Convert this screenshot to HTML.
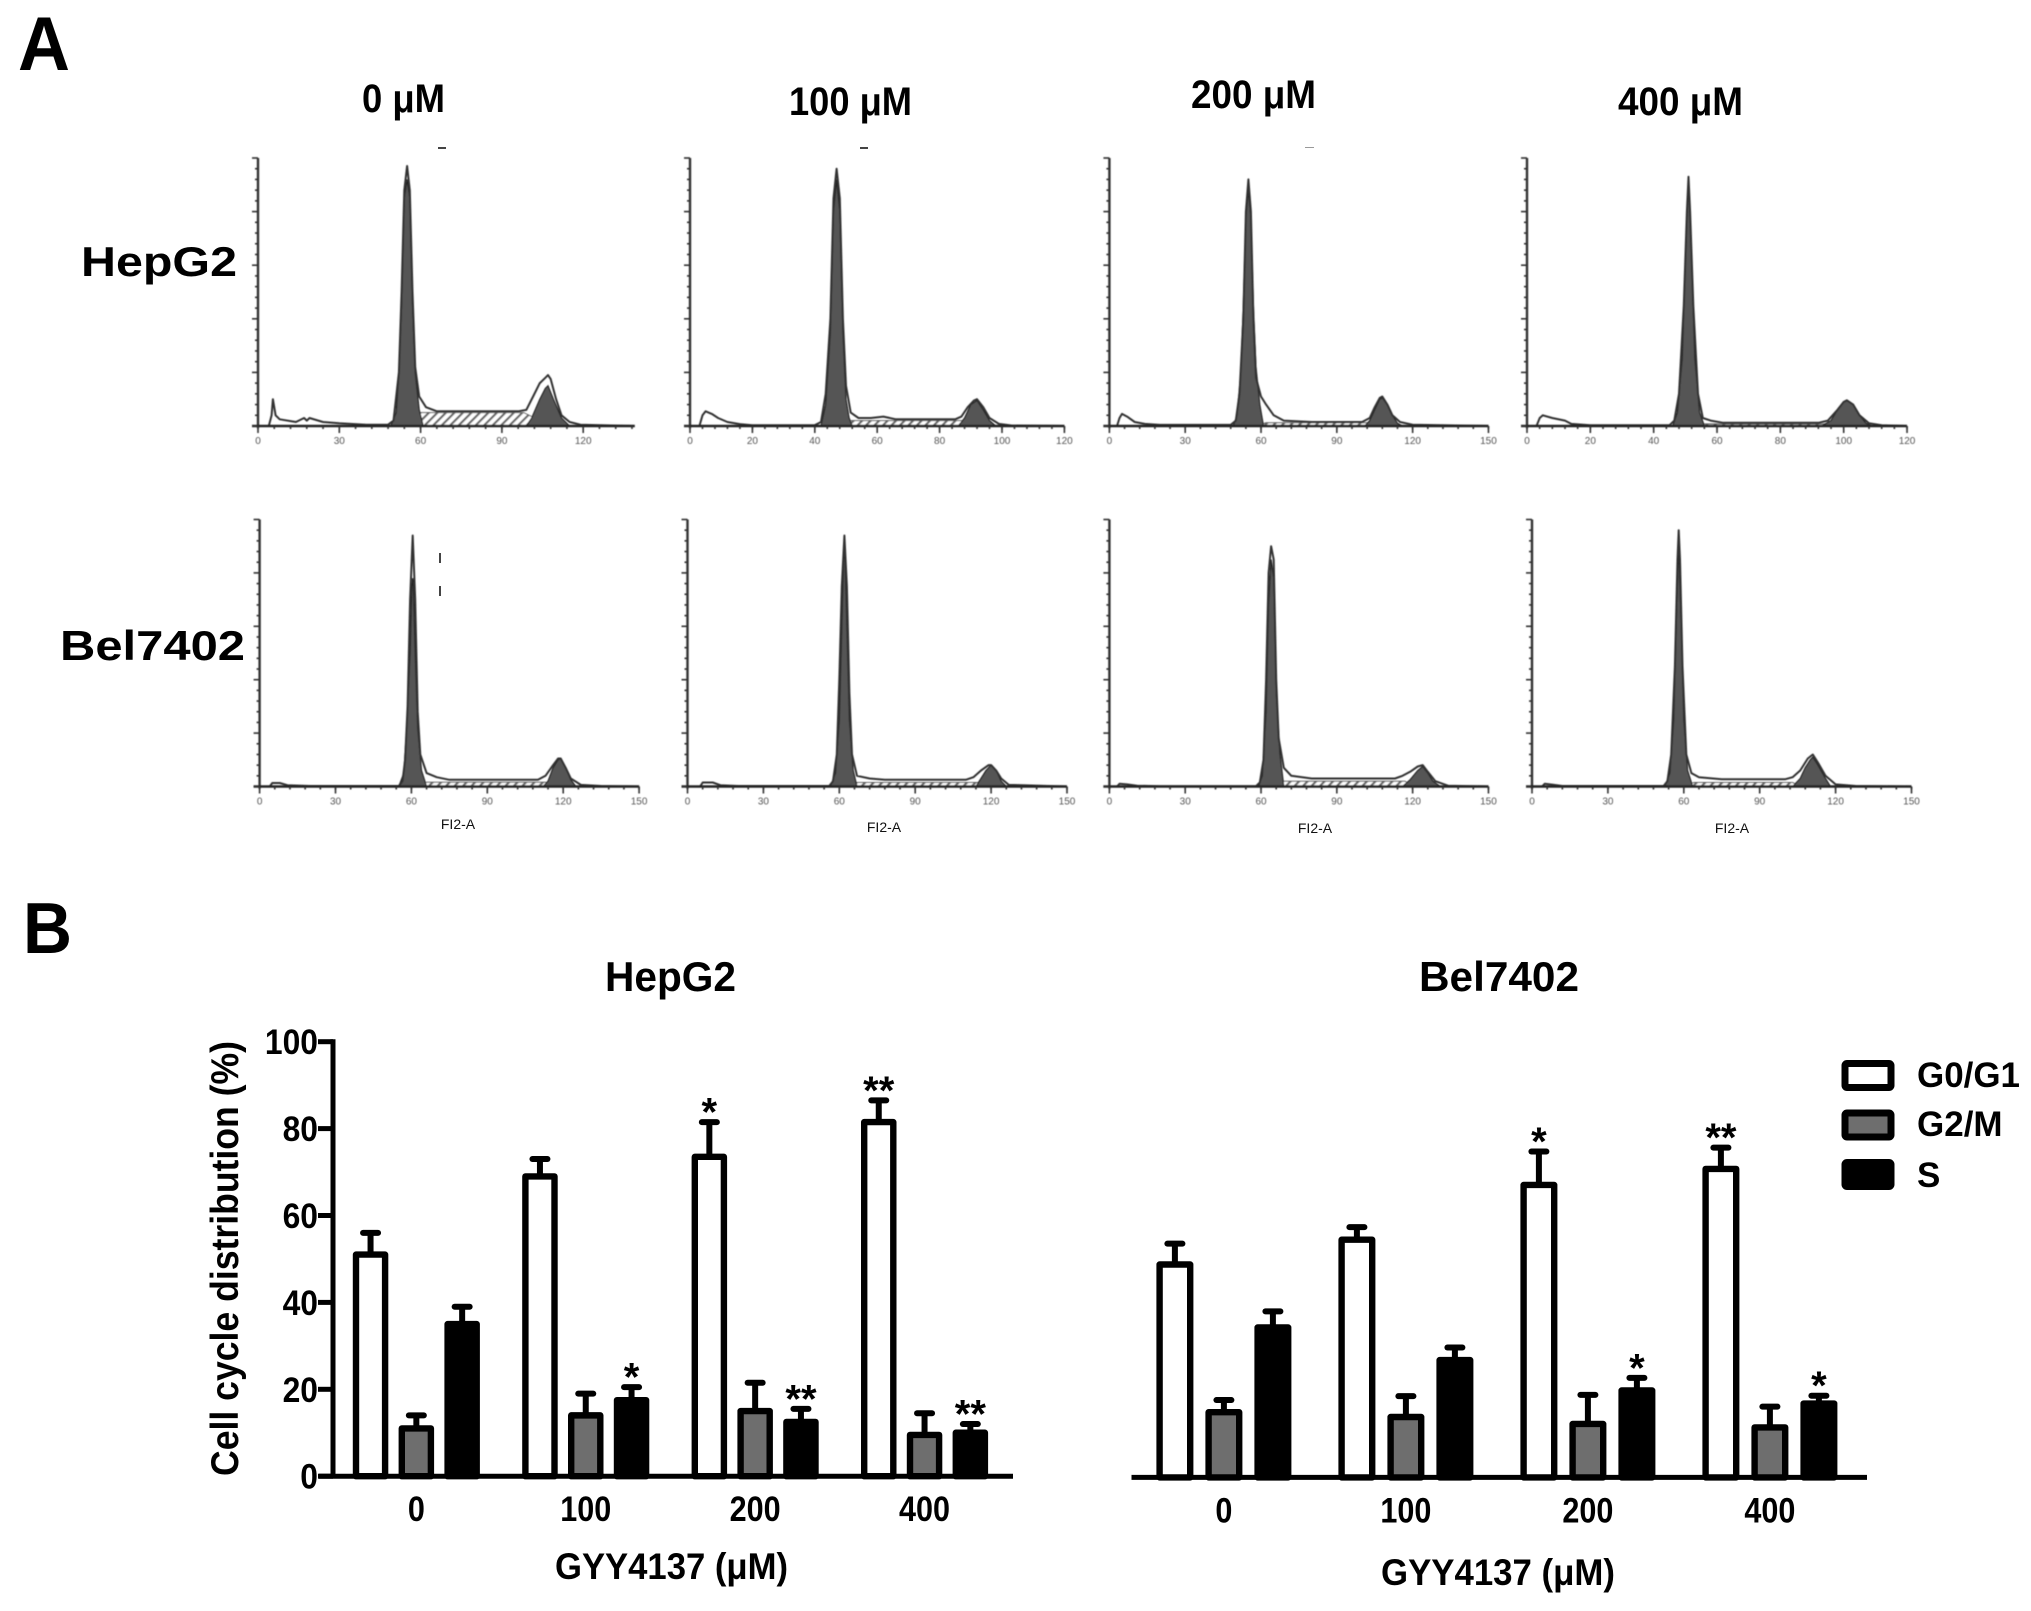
<!DOCTYPE html>
<html lang="en">
<head>
<meta charset="utf-8">
<title>Cell cycle distribution after GYY4137 treatment</title>
<style>
html,body{margin:0;padding:0;background:#fff;}
svg{display:block;}
text{font-family:"Liberation Sans",sans-serif;font-weight:bold;fill:#000;}
.hist-tick{font-size:10px;font-weight:normal;fill:#555;}
.fl{font-size:14px;font-weight:normal;fill:#111;}
</style>
</head>
<body>
<svg id="figure" xmlns="http://www.w3.org/2000/svg" width="2031" height="1611" viewBox="0 0 2031 1611">
<defs>
<pattern id="hatch" patternUnits="userSpaceOnUse" width="6" height="6" patternTransform="rotate(45)">
<rect width="6" height="6" fill="#fff"/>
<rect width="2.2" height="6" fill="#666"/>
</pattern>
<filter id="soft" x="-5%" y="-5%" width="110%" height="110%"><feGaussianBlur stdDeviation="0.6"/></filter>
</defs>
<rect width="2031" height="1611" fill="#fff"/>

<text x="18" y="70" font-size="76" textLength="52" lengthAdjust="spacingAndGlyphs">A</text>
<text x="23" y="953" font-size="72" textLength="49" lengthAdjust="spacingAndGlyphs">B</text>

<text x="362" y="112" font-size="40" textLength="83" lengthAdjust="spacingAndGlyphs">0 μM</text>
<text x="789" y="115" font-size="40" textLength="123" lengthAdjust="spacingAndGlyphs">100 μM</text>
<text x="1191" y="108" font-size="40" textLength="125" lengthAdjust="spacingAndGlyphs">200 μM</text>
<text x="1618" y="115" font-size="40" textLength="125" lengthAdjust="spacingAndGlyphs">400 μM</text>

<text x="81" y="276" font-size="42" textLength="156" lengthAdjust="spacingAndGlyphs">HepG2</text>
<text x="60" y="660" font-size="42" textLength="185" lengthAdjust="spacingAndGlyphs">Bel7402</text>

<g id="histograms" filter="url(#soft)"></g>

<text class="fl" x="458" y="829" text-anchor="middle">FI2-A</text>
<text class="fl" x="884" y="832" text-anchor="middle">FI2-A</text>
<text class="fl" x="1315" y="833" text-anchor="middle">FI2-A</text>
<text class="fl" x="1732" y="833" text-anchor="middle">FI2-A</text>

<rect x="438" y="147" width="8" height="2" fill="#444"/>
<rect x="860" y="147" width="8" height="2" fill="#444"/>
<rect x="1305" y="147" width="9" height="1" fill="#999"/>
<rect x="439" y="553" width="2" height="10" fill="#444"/>
<rect x="439" y="586" width="2" height="10" fill="#444"/>

<text x="605" y="991" font-size="42" textLength="131" lengthAdjust="spacingAndGlyphs">HepG2</text>
<text x="1419" y="991" font-size="42" textLength="160" lengthAdjust="spacingAndGlyphs">Bel7402</text>

<g id="hepChart"></g>
<g id="belChart"></g>

<text transform="translate(238,1476) rotate(-90)" x="0" y="0" font-size="39" textLength="435" lengthAdjust="spacingAndGlyphs">Cell cycle distribution (%)</text>
<text x="555" y="1579" font-size="37" textLength="233" lengthAdjust="spacingAndGlyphs">GYY4137 (μM)</text>
<text x="1381" y="1585" font-size="37" textLength="234" lengthAdjust="spacingAndGlyphs">GYY4137 (μM)</text>

<g>
<rect x="1845" y="1063.5" width="46" height="24" rx="2" fill="#fff" stroke="#000" stroke-width="7"/>
<text x="1917" y="1087" font-size="35" textLength="103" lengthAdjust="spacingAndGlyphs">G0/G1</text>
<rect x="1845" y="1113" width="46" height="24" rx="2" fill="#6e6e6e" stroke="#000" stroke-width="7"/>
<text x="1917" y="1136" font-size="35">G2/M</text>
<rect x="1845" y="1162.5" width="46" height="24" rx="2" fill="#000" stroke="#000" stroke-width="7"/>
<text x="1917" y="1187" font-size="35">S</text>
</g>
</svg>

<script>
/* ---------- Panel B data ---------- */
const doseLabels = ['0', '100', '200', '400'];
const yTickValues = [0, 20, 40, 60, 80, 100];
const phaseNames = ['g0-g1', 'g2-m', 's'];

const hepG0 = [51, 69, 73.5, 81.5];
const hepG2 = [11, 14, 15, 9.5];
const hepS = [35, 17.5, 12.5, 10];
const hepG0Err = [5, 4, 8, 5];
const hepG2Err = [3, 5, 6.5, 5];
const hepSErr = [4, 3, 3, 2];
const hepG0Stars = ['', '', '*', '**'];
const hepG2Stars = ['', '', '', ''];
const hepSStars = ['', '*', '**', '**'];

const belG0 = [49, 54.7, 67.3, 71];
const belG2 = [15, 13.9, 12.3, 11.5];
const belS = [34.5, 27, 20, 17];
const belG0Err = [4.8, 2.9, 7.7, 4.9];
const belG2Err = [2.8, 4.8, 6.7, 4.8];
const belSErr = [3.7, 2.9, 2.9, 1.8];
const belG0Stars = ['', '', '*', '**'];
const belG2Stars = ['', '', '', ''];
const belSStars = ['', '', '*', '*'];

/* ---------- Panel A data: channel / percent-of-axis-height pairs ---------- */
const histTicks30to120 = [0, 30, 60, 90, 120];
const histTicks20to120 = [0, 20, 40, 60, 80, 100, 120];
const histTicks30to150 = [0, 30, 60, 90, 120, 150];

const hepOutline0 = [[0,0],[4,0],[5,4],[5.5,10],[6.5,4],[8,2.5],[14,1.5],[17,3],[18,2],[19,3],[24,1.5],[30,1],[40,.5],[48,.5],[50,2],[52,20],[53,50],[54,88],[55,97],[56,88],[57,50],[58,22],[59.5,11],[62,7],[66,5.5],[80,5.5],[96,5.5],[99,6],[101.5,11],[104,16],[106,18],[107,19],[108,17.5],[110,10],[112,4],[115,1.5],[119,.5],[139,0]];
const hepG1Fill0 = [[49,0],[51,5],[52,20],[53,45],[54,85],[55,92],[56,85],[57,45],[58,20],[59.5,6],[61,0]];
const hepG2Fill0 = [[99,0],[101,3],[104,10],[106,14],[107,15],[109,10],[112,3],[115,0]];
const hepSFill0 = [[56,0],[60,5],[98,5],[104,2],[108,0]];

const hepOutline100 = [[0,0],[3,0],[4,4],[5,5.5],[7,4.5],[9,3],[12,1.5],[16,.7],[20,.3],[40,.3],[42,1.5],[43.5,12],[45,40],[46,85],[47,96],[48,85],[49,40],[50,15],[51.5,5],[54,3],[58,3],[62,3.5],[66,2.5],[85,2.5],[87,3.5],[89,7],[91,9.5],[92,10],[94,7],[96,3],[99,.8],[103,.2],[120,0]];
const hepG1Fill100 = [[42,0],[43.5,8],[45,35],[46,80],[47,92],[48,80],[49,35],[50,10],[51,3],[52,0]];
const hepG2Fill100 = [[86,0],[88,3],[90,8],[92,9.5],[94,6],[96,2],[98,0]];
const hepSFill100 = [[49,0],[51,2],[87,2],[90,0]];

const hepOutline200 = [[0,0],[3,0],[4,3],[5,4.5],[7,3.5],[10,1.5],[14,.8],[20,.4],[48,.4],[50,2],[51.5,12],[53,40],[54,80],[55,92],[56,80],[57,40],[58,18],[60,11],[62,8],[65,4],[69,2],[80,1.5],[100,1.5],[103,3],[105,7],[107,10.5],[108,11],[110,8],[112,4],[115,1.5],[120,.5],[150,0]];
const hepG1Fill200 = [[49,0],[50.5,4],[52,20],[53,45],[54,78],[55,88],[56,78],[57,45],[58,22],[59.5,8],[61,0]];
const hepG2Fill200 = [[101,0],[103,2],[105,6],[107,10],[108,10.5],[110,8],[112,4],[114,1],[116,0]];
const hepSFill200 = [[58,0],[62,1.2],[102,1.2],[105,0]];

const hepOutline400 = [[0,0],[3,0],[4,3],[5,4],[8,3],[12,2],[14,.8],[20,.3],[45,.3],[46.5,2],[48,12],[49.5,45],[50.5,80],[51,93],[51.5,80],[52.5,45],[54,12],[55.5,3],[58,2],[62,1.2],[92,1.2],[95,2],[98,6],[100,9],[101,9.6],[103,8],[105,4],[108,1],[112,.3],[120,0]];
const hepG1Fill400 = [[46,0],[47.5,5],[49,25],[50,60],[50.7,85],[51,90],[51.3,85],[52,60],[53,25],[54.5,5],[56,0]];
const hepG2Fill400 = [[93,0],[96,2],[98,6],[100,9],[101,9.6],[103,8],[105,4],[107,1],[109,0]];
const hepSFill400 = [[52,0],[56,.8],[94,.8],[98,0]];

const belOutline0 = [[0,0],[4,0],[5,1.3],[8,1.3],[11,.5],[20,.2],[55,.2],[56.5,2],[57.5,10],[58.5,30],[59.5,70],[60.5,94],[61.5,70],[62.5,28],[63.5,12],[66,5],[70,3.5],[75,2.5],[110,2.5],[113,4],[116,8],[118,10.5],[119,10.5],[121,7],[123,3],[127,.6],[135,.2],[150,0]];
const belG1Fill0 = [[55,0],[57,5],[58,20],[59.5,50],[60.2,75],[60.5,78],[60.8,75],[61.5,50],[62.5,22],[64,6],[66,0]];
const belG2Fill0 = [[112,0],[114,2],[116,7],[118,10],[119,10.5],[121,7],[123,2.5],[125,0]];
const belSFill0 = [[62,0],[66,1.6],[113,1.6],[116,0]];

const belOutline100 = [[0,0],[5,0],[6,1.5],[10,1.5],[13,.5],[20,.2],[56,.2],[57.5,2],[59,12],[60,40],[61,75],[62,94],[63,75],[64,35],[65,12],[67,4],[72,3],[78,2.5],[110,2.5],[113,3.5],[116,6],[119,8],[120,8],[122,6],[124,3],[127,.6],[150,0]];
const belG1Fill100 = [[56.5,0],[58.5,5],[60,25],[61,60],[61.7,85],[62,88],[62.3,85],[63,60],[64,25],[65.5,6],[67,0]];
const belG2Fill100 = [[114,0],[116,3],[118,6],[120,8],[122,6],[124,2],[126,0]];
const belSFill100 = [[64,0],[67,1.5],[115,1.5],[117,0]];

const belOutline200 = [[0,0],[3,0],[4,1],[7,.8],[11,.3],[20,.1],[58,.1],[59.5,1.5],[61,10],[62,40],[63,80],[64,90],[65,85],[66,40],[67,18],[69,7],[72,4],[80,3],[113,3],[116,4],[119,5.5],[122,7.5],[124,8],[126,5.5],[129,2],[134,.3],[150,0]];
const belG1Fill200 = [[59,0],[60.5,4],[62,28],[63,68],[64,85],[65,78],[66,35],[67.5,12],[69,0]];
const belG2Fill200 = [[116,0],[119,2.5],[122,6],[124,7.5],[126,5],[128,2],[131,0]];
const belSFill200 = [[65,0],[69,2],[117,2],[120,0]];

const belOutline400 = [[0,0],[4,0],[5,1],[8,.7],[12,.2],[52,.2],[53.5,2],[55,12],[56.5,45],[57.5,85],[58,96],[58.5,85],[59.5,45],[61,12],[63,5],[66,3.5],[75,2.7],[100,2.7],[103,3.5],[106,6],[109,10.5],[111,12],[113,9],[116,4],[120,.8],[128,.2],[150,0]];
const belG1Fill400 = [[52.5,0],[54.5,5],[56,25],[57,60],[57.8,85],[58,88],[58.2,85],[59,60],[60,25],[61.5,6],[63.5,0]];
const belG2Fill400 = [[103,0],[106,3],[108,7],[110,10],[111,11],[113,8],[116,3],[118,0]];
const belSFill400 = [[60,0],[64,1.5],[103,1.5],[106,0]];

/* ---------- drawing helpers ---------- */
const NS = 'http://www.w3.org/2000/svg';

function make(tag, parent, props) {
  const el = document.createElementNS(NS, tag);
  for (const key in props) el.setAttribute(key, props[key]);
  parent.appendChild(el);
  return el;
}

/* ---------- Panel A ---------- */
const histPanels = [
  {id:'hepg2-0', x0:258, px:2.71, xEnd:139, base:426, h:268, ticks:histTicks30to120, outline:hepOutline0, g1:hepG1Fill0, g2:hepG2Fill0, s:hepSFill0},
  {id:'hepg2-100', x0:690, px:3.12, xEnd:120, base:426, h:268, ticks:histTicks20to120, outline:hepOutline100, g1:hepG1Fill100, g2:hepG2Fill100, s:hepSFill100},
  {id:'hepg2-200', x0:1109.4, px:2.527, xEnd:150, base:426, h:268, ticks:histTicks30to150, outline:hepOutline200, g1:hepG1Fill200, g2:hepG2Fill200, s:hepSFill200},
  {id:'hepg2-400', x0:1527, px:3.167, xEnd:120, base:426, h:268, ticks:histTicks20to120, outline:hepOutline400, g1:hepG1Fill400, g2:hepG2Fill400, s:hepSFill400},
  {id:'bel7402-0', x0:259.6, px:2.53, xEnd:150, base:786.5, h:267, ticks:histTicks30to150, outline:belOutline0, g1:belG1Fill0, g2:belG2Fill0, s:belSFill0},
  {id:'bel7402-100', x0:687.5, px:2.53, xEnd:150, base:786.5, h:267, ticks:histTicks30to150, outline:belOutline100, g1:belG1Fill100, g2:belG2Fill100, s:belSFill100},
  {id:'bel7402-200', x0:1109.4, px:2.527, xEnd:150, base:786.5, h:267, ticks:histTicks30to150, outline:belOutline200, g1:belG1Fill200, g2:belG2Fill200, s:belSFill200},
  {id:'bel7402-400', x0:1532, px:2.53, xEnd:150, base:786.5, h:267, ticks:histTicks30to150, outline:belOutline400, g1:belG1Fill400, g2:belG2Fill400, s:belSFill400}
];

function drawHistogram(p, root) {
  const xAt = ch => p.x0 + ch * p.px;
  const yAt = pct => p.base - pct / 100 * p.h;
  const pts = arr => arr.map(d => xAt(d[0]).toFixed(1) + ',' + yAt(d[1]).toFixed(1)).join(' ');

  const g = make('g', root, {});
  
  

  const sPhase = make('polygon', g, {points: pts(p.s), fill: 'url(#hatch)', stroke: '#555', 'stroke-width': 1});
  
  

  const g1 = make('polygon', g, {points: pts(p.g1), fill: '#555', stroke: '#222', 'stroke-width': 1.2});
  
  

  const g2 = make('polygon', g, {points: pts(p.g2), fill: '#555', stroke: '#222', 'stroke-width': 1.2});
  
  

  const line = make('polyline', g, {points: pts(p.outline), fill: 'none', stroke: '#333', 'stroke-width': 2, 'stroke-linejoin': 'round'});
  
  

  const yAxis = make('line', g, {x1: p.x0, x2: p.x0, y1: p.base + 2, y2: yAt(100), stroke: '#333', 'stroke-width': 2.4});
  
  

  const xAxis = make('line', g, {x1: p.x0 - 6, x2: xAt(p.xEnd), y1: p.base, y2: p.base, stroke: '#222', 'stroke-width': 2.6});
  
  

  for (let pct = 0; pct <= 100; pct += 4) {
    const isMajor = pct % 20 === 0;
    const yTick = make('line', g, {x1: p.x0 - (isMajor ? 6 : 3), x2: p.x0, y1: yAt(pct), y2: yAt(pct), stroke: '#333', 'stroke-width': 1.6});
    
    
  }

  const minorStep = (p.ticks[1] - p.ticks[0]) / 5;
  for (let ch = 0; ch <= p.xEnd; ch += minorStep) {
    const xTick = make('line', g, {x1: xAt(ch), x2: xAt(ch), y1: p.base, y2: p.base + 3, stroke: '#333', 'stroke-width': 1.6});
    
    
  }

  p.ticks.forEach(value => {
    const major = make('line', g, {x1: xAt(value), x2: xAt(value), y1: p.base, y2: p.base + 7, stroke: '#333', 'stroke-width': 1.6});
    
    
    const label = make('text', g, {x: xAt(value), y: p.base + 18, 'text-anchor': 'middle', class: 'hist-tick'});
    
    
    label.textContent = value;
  });
}

const histRoot = document.getElementById('histograms');
histPanels.forEach(p => drawHistogram(p, histRoot));

/* ---------- Panel B ---------- */
function drawBarChart(cfg) {
  const root = document.getElementById(cfg.root);
  const yAt = v => cfg.yZero - v * cfg.pxPerUnit;
  const barX = (groupIndex, phaseIndex) => cfg.x0 + groupIndex * cfg.groupStep + phaseIndex * cfg.barStep;
  const fills = ['#fff', '#6e6e6e', '#000'];

  cfg.series.forEach((values, phaseIndex) => {
    values.forEach((value, groupIndex) => {
      const x = barX(groupIndex, phaseIndex);
      const cx = x + cfg.barW / 2;
      const errTop = yAt(value + cfg.errors[phaseIndex][groupIndex]);

      const stem = make('line', root, {x1: cx, x2: cx, y1: yAt(value), y2: errTop, stroke: '#000', 'stroke-width': 6});
      
      

      const cap = make('line', root, {x1: cx - 7.5, x2: cx + 7.5, y1: errTop, y2: errTop, stroke: '#000', 'stroke-width': 6, 'stroke-linecap': 'round'});
      
      

      const bar = make('rect', root, {x: x + 3.2, y: yAt(value), width: cfg.barW - 6.4, height: Math.max(0, cfg.yZero - yAt(value)), fill: fills[phaseIndex], stroke: '#000', 'stroke-width': 6.4, 'stroke-linejoin': 'round'});
      
      

      const star = cfg.stars[phaseIndex][groupIndex];
      if (star) {
        const mark = make('text', root, {x: cx, y: errTop + 3.5, 'text-anchor': 'middle', 'font-size': 40});
        
        
        mark.textContent = star;
      }
    });
  });

  const xAxis = make('line', root, {x1: cfg.axisStart, x2: cfg.axisEnd, y1: cfg.yZero, y2: cfg.yZero, stroke: '#000', 'stroke-width': 5});
  
  

  doseLabels.forEach((label, groupIndex) => {
    const tick = make('text', root, {x: barX(groupIndex, 1) + cfg.barW / 2, y: cfg.yZero + 45, 'text-anchor': 'middle', 'font-size': 35, textLength: label.length * 17, lengthAdjust: 'spacingAndGlyphs'});
    
    
    tick.textContent = label;
  });

  if (cfg.yAxisX) {
    const yAxis = make('line', root, {x1: cfg.yAxisX, x2: cfg.yAxisX, y1: yAt(100) - 2.5, y2: cfg.yZero, stroke: '#000', 'stroke-width': 5});
    
    
    yTickValues.forEach(value => {
      const t = make('line', root, {x1: cfg.yAxisX - 15, x2: cfg.yAxisX, y1: yAt(value), y2: yAt(value), stroke: '#000', 'stroke-width': 5});
      
      
      const text = String(value);
      const tl = make('text', root, {x: cfg.yAxisX - 15, y: yAt(value) + 12.5, 'text-anchor': 'end', 'font-size': 35, textLength: text.length * 17.7, lengthAdjust: 'spacingAndGlyphs'});
      
      
      tl.textContent = text;
    });
  }
}

drawBarChart({
  root: 'hepChart', id: 'hepg2', x0: 352.8, barW: 35.5, barStep: 45.8, groupStep: 169.4,
  yZero: 1476.2, pxPerUnit: 4.345, axisStart: 319, axisEnd: 1013, yAxisX: 333,
  series: [hepG0, hepG2, hepS], errors: [hepG0Err, hepG2Err, hepSErr], stars: [hepG0Stars, hepG2Stars, hepSStars]
});
drawBarChart({
  root: 'belChart', id: 'bel7402', x0: 1156.4, barW: 37, barStep: 49, groupStep: 182,
  yZero: 1477.4, pxPerUnit: 4.345, axisStart: 1131.5, axisEnd: 1867, yAxisX: 0,
  series: [belG0, belG2, belS], errors: [belG0Err, belG2Err, belSErr], stars: [belG0Stars, belG2Stars, belSStars]
});
</script>
</body>
</html>
